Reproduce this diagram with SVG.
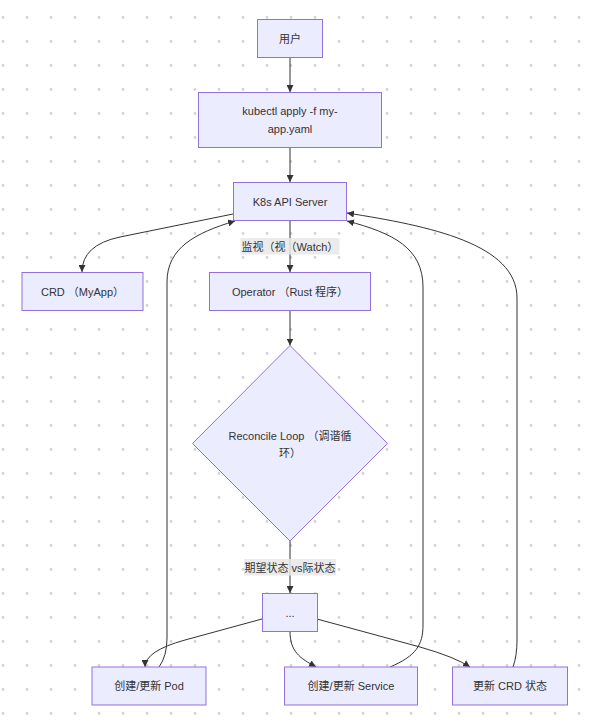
<svg xmlns="http://www.w3.org/2000/svg" width="590" height="726" viewBox="0 0 590 726">
<defs>
<pattern id="dots" x="0" y="0" width="24" height="24" patternUnits="userSpaceOnUse">
<circle cx="3" cy="17.5" r="1.4" fill="#d4d4d4"/>
</pattern>
<marker id="arr" viewBox="0 0 10 10" refX="10" refY="5" markerWidth="7" markerHeight="7" markerUnits="userSpaceOnUse" orient="auto">
<path d="M0,0 L10,5 L0,10 z" fill="#333"/>
</marker>
<style>
.n rect, .n polygon { fill: #ECECFF; stroke: #9370DB; stroke-width: 1; }
text { font-family: "Liberation Sans", "Noto Sans CJK SC", sans-serif; font-size: 11px; fill: #333; text-anchor: middle; dominant-baseline: central; }
.e path { fill: none; stroke: #333; stroke-width: 1; marker-end: url(#arr); }
.lb { fill: #e8e8e8; fill-opacity: 0.85; stroke: none; }
</style>
</defs>
<rect width="590" height="726" fill="#fff"/>
<rect width="590" height="726" fill="url(#dots)"/>

<g id="edges" class="e">
<path d="M290,57 L290,92"/>
<path d="M290,147 L290,182"/>
<path d="M233,214 L120,237 Q82,245 82,272"/>
<path d="M290,220 L290,272"/>
<path d="M290,310 L290,345.5"/>
<path d="M290,541 L290,593"/>
<path d="M262,619 L185,640 Q145,651 145,667"/>
<path d="M290,631 C290,652 300,658 316,667"/>
<path d="M317,619 L420,647 Q455,657 470,667"/>
<path d="M159,667 Q167,656 167,638 L167,282 C167,248 195,233 235,221"/>
<path d="M390,667 C416,656 423,645 423,625 L423,287 C423,248 393,233 347,221"/>
<path d="M513,667 Q517,656 517,640 L517,298 C517,244 430,226 347,213"/>
</g>

<g id="edge-labels">
<rect class="lb" x="240.5" y="238" width="99" height="16.5"/>
<text x="290" y="246.5">监视（视（Watch）</text>
<rect class="lb" x="244" y="559" width="92" height="16.5"/>
<text x="290" y="567.5">期望状态 vs际状态</text>
</g>

<g id="user" class="n">
<rect x="257.5" y="19.5" width="65" height="38"/>
<text x="290" y="38.5">用户</text>
</g>
<g id="kubectl" class="n">
<rect x="198.5" y="92.5" width="183" height="55"/>
<text x="290" y="111">kubectl apply -f my-</text>
<text x="290" y="128.5">app.yaml</text>
</g>
<g id="api" class="n">
<rect x="233.5" y="182.5" width="113" height="38"/>
<text x="290" y="201.5">K8s API Server</text>
</g>
<g id="crd" class="n">
<rect x="22" y="272.5" width="121" height="38"/>
<text x="82.5" y="291.5">CRD （MyApp）</text>
</g>
<g id="operator" class="n">
<rect x="209.5" y="272.5" width="161" height="38"/>
<text x="290" y="291.5">Operator （Rust 程序）</text>
</g>
<g id="reconcile" class="n">
<polygon points="290,345.5 387.5,443.5 290,541 192.5,443.5"/>
<text x="290" y="435.5">Reconcile Loop （调谐循</text>
<text x="290" y="452.5">环）</text>
</g>
<g id="dots-node" class="n">
<rect x="262.5" y="593.5" width="55" height="38"/>
<text x="290" y="612.5">...</text>
</g>
<g id="pod" class="n">
<rect x="92" y="667" width="114" height="38"/>
<text x="149" y="686">创建/更新 Pod</text>
</g>
<g id="service" class="n">
<rect x="284.5" y="667" width="133" height="38"/>
<text x="351" y="686">创建/更新 Service</text>
</g>
<g id="crdstatus" class="n">
<rect x="452.5" y="667" width="115" height="38"/>
<text x="510" y="686">更新 CRD 状态</text>
</g>
</svg>
